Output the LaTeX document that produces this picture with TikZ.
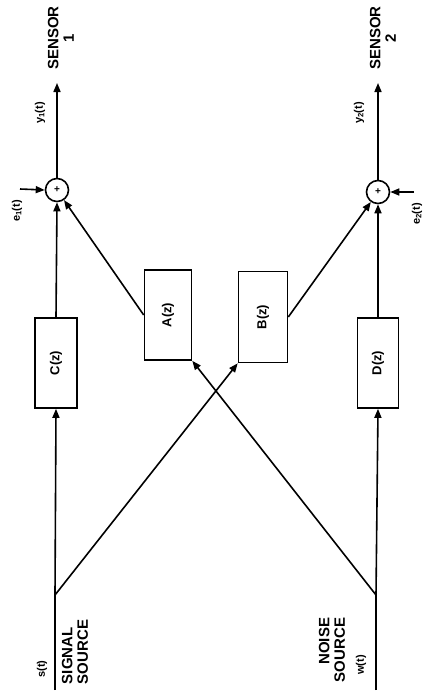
\documentclass[tikz,border=0pt]{standalone}
\usepackage{fontspec}
\setmainfont{Liberation Sans}
\usepackage{graphicx}
\usetikzlibrary{arrows.meta}
\tikzset{
  box/.style={draw=black,line width=1.6pt,fill=white,inner sep=0pt,font=\bfseries\fontsize{13}{14}\selectfont},
  sumnode/.style={circle,draw=black,line width=1.6pt,fill=white,minimum size=23pt,inner sep=0pt,font=\bfseries\fontsize{10}{11}\selectfont},
  arr/.style={-{Triangle[length=9pt,width=7pt]},line width=1.6pt},
  plain/.style={line width=1.6pt},
  caps/.style={rotate=90,font=\bfseries\fontsize{15}{15.5}\selectfont,inner sep=0pt},
  sig/.style={rotate=90,font=\bfseries\fontsize{11}{12}\selectfont,inner sep=0pt}
}

\begin{document}
\begin{tikzpicture}[x=1pt,y=-1pt]
\path[use as bounding box] (0,0) rectangle (432,693);
% sources and branch points
\coordinate (src1) at (55,690);
\coordinate (br1) at (55,595);
\coordinate (src2) at (376,690);
\coordinate (br2) at (376,595);
% filters
\node[box,minimum width=42pt,minimum height=90pt] (C) at (56,363) {\rotatebox{90}{C(z)}};
\node[box,minimum width=47pt,minimum height=90pt] (A) at (168,315) {\rotatebox{90}{A(z)}};
\node[box,minimum width=49pt,minimum height=91pt] (B) at (263,317) {\rotatebox{90}{B(z)}};
\node[box,minimum width=41pt,minimum height=90pt] (D) at (378,363) {\rotatebox{90}{D(z)}};
% summing junctions
\node[sumnode] (s1) at (57,190) {+};
\node[sumnode] (s2) at (378,192) {+};
\coordinate (out1) at (57,83);
\coordinate (out2) at (378,83);
\coordinate (e1in) at (20,189);
\coordinate (e2in) at (414,192);
% connections
\draw[plain] (src1) -- (br1);
\draw[arr] (br1) -- (C.south);
\draw[arr] (br1) -- (B.south west);
\draw[arr] (C.north) -- (s1.south);
\draw[arr] (A.west) -- (s1);
\draw[arr] (e1in) -- (s1.west);
\draw[arr] (s1.north) -- (out1);
\draw[plain] (src2) -- (br2);
\draw[arr] (br2) -- (D.south);
\draw[arr] (br2) -- (A.south east);
\draw[arr] (D.north) -- (s2.south);
\draw[arr] (B.east) -- (s2);
\draw[arr] (e2in) -- (s2.east);
\draw[arr] (s2.north) -- (out2);
% labels
\node[caps,align=center] (sensor1) at (61,38) {SENSOR\\1};
\node[caps,align=center] (sensor2) at (383,38) {SENSOR\\2};
\node[sig] (y1) at (40,113) {y\textsubscript{1}(t)};
\node[sig] (y2) at (359,113) {y\textsubscript{2}(t)};
\node[sig] (e1) at (17,211) {e\textsubscript{1}(t)};
\node[sig] (e2) at (417,214) {e\textsubscript{2}(t)};
\node[sig] (s) at (42,669) {s(t)};
\node[sig] (w) at (361,665) {w(t)};
\node[caps,align=left] (sigsrc) at (75,652) {SIGNAL\\SOURCE};
\node[caps,align=right] (noisesrc) at (332,650) {NOISE\\SOURCE};
\end{tikzpicture}
\end{document}
